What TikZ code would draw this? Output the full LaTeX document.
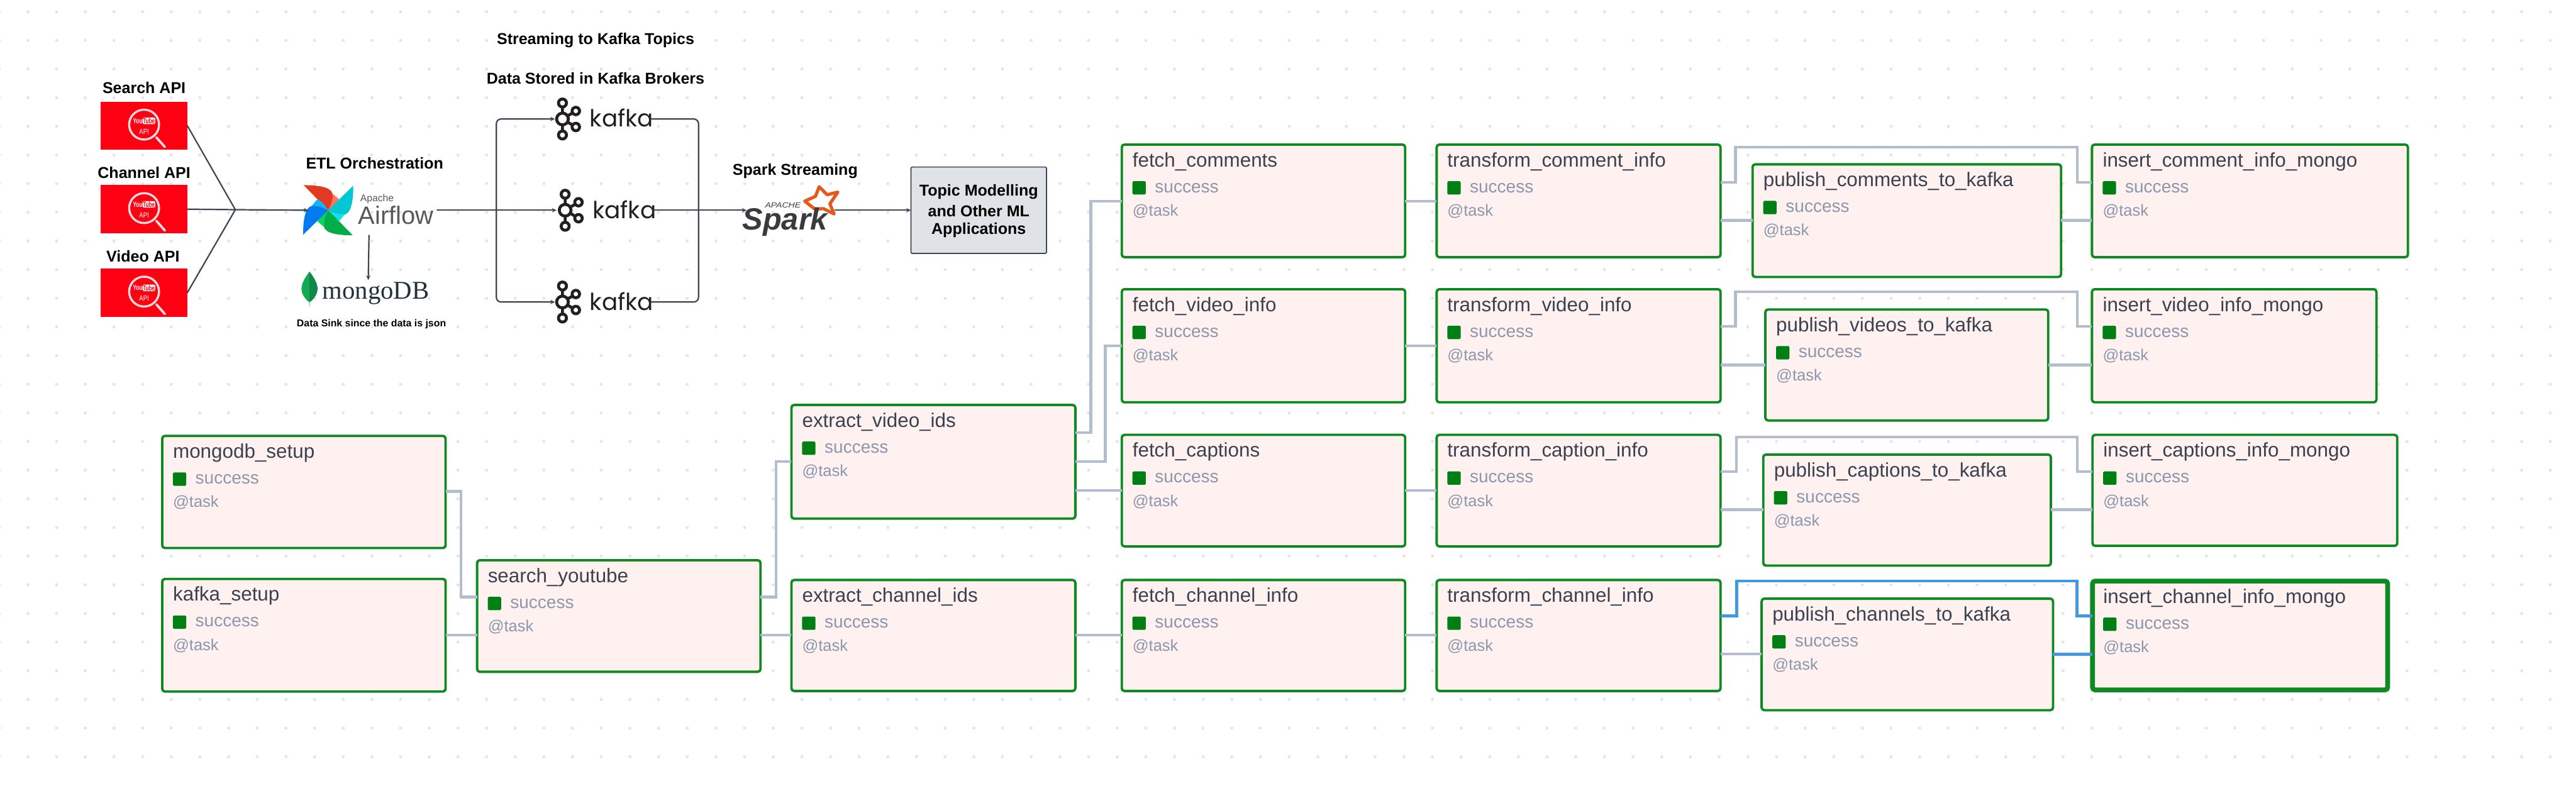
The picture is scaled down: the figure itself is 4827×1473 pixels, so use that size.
\documentclass[tikz,border=0pt]{standalone}
\usepackage{fontspec}
\setmainfont{Liberation Sans}
\newfontfamily\popfont{Poppins}
\newfontfamily\seriffont{Liberation Serif}
\usetikzlibrary{arrows.meta,calc}
\definecolor{dotc}{HTML}{E6E6E6}
\definecolor{taskfill}{HTML}{FFF1EF}
\definecolor{taskgreen}{HTML}{0F8A22}
\definecolor{sqgreen}{HTML}{008014}
\definecolor{edgegrey}{HTML}{B2BECD}
\definecolor{edgeblue}{HTML}{4299E1}
\definecolor{namec}{HTML}{3A4150}
\definecolor{subc}{HTML}{8A97AD}
\definecolor{darkline}{HTML}{3E4654}
\definecolor{ytred}{HTML}{FF0013}
\definecolor{kafkac}{HTML}{231F20}
\definecolor{sparkc}{HTML}{3C3A3E}
\definecolor{sparko}{HTML}{E25A1C}
\definecolor{topicfill}{HTML}{DFE3E8}
\definecolor{mongotext}{HTML}{21313C}
\definecolor{leafa}{HTML}{13AA52}
\definecolor{leafb}{HTML}{10884A}
\tikzset{
  taskbox/.style={draw=taskgreen,fill=taskfill,line width=4.5pt,rounded corners=5pt,inner sep=0,outer sep=0},
  taskname/.style={anchor=west,inner sep=0,text=namec,font=\fontsize{37}{44}\selectfont},
  tasksub/.style={anchor=west,inner sep=0,text=subc,font=\fontsize{33}{40}\selectfont},
  tasktag/.style={anchor=west,inner sep=0,text=subc,font=\fontsize{30}{36}\selectfont},
  tasksq/.style={fill=sqgreen,rounded corners=2pt,inner sep=0,outer sep=0,minimum width=25pt,minimum height=25pt},
  title/.style={inner sep=0,text=black,font=\fontsize{29.5}{35}\selectfont\bfseries},
  logoarea/.style={inner sep=0,outer sep=0},
  apibox/.style={fill=ytred,inner sep=0,outer sep=0,minimum width=162pt,minimum height=90pt},
  greyedge/.style={draw=edgegrey,line width=5pt,line join=miter},
  blueedge/.style={draw=edgeblue,line width=5.5pt,line join=miter},
  flow/.style={draw=darkline,line width=2.6pt,line cap=round},
  flowarrow/.style={flow,-{Stealth[length=9pt,width=8pt]}},
}
\newcommand\tasknode[6][]{%
  \pgfmathsetmacro\tcx{(#3+#5)/2}\pgfmathsetmacro\tcy{(#4+#6)/2}%
  \pgfmathsetmacro\tw{#5-#3}\pgfmathsetmacro\th{#6-#4}%
  \pgfmathsetmacro\tl{#3+20}\pgfmathsetmacro\tsq{#3+32.5}\pgfmathsetmacro\tsu{#3+62}%
  \pgfmathsetmacro\tya{#4+32}\pgfmathsetmacro\tyb{#4+81}\pgfmathsetmacro\tyc{#4+125}%
  \node[taskbox,minimum width=\tw pt,minimum height=\th pt,#1] (#2) at (\tcx,\tcy) {};
  \node[tasksq] (#2sq) at (\tsq,\tyb) {};
  \node[tasksub] (#2st) at (\tsu,\tyb) {success};
  \node[tasktag] (#2tg) at (\tl,\tyc) {@task};
}
\newcommand\tasklabel[2]{\node[taskname] (#1nm) at ($(#1.north west)+(20pt,-32pt)$) {#2};}
\newcommand\straightedge[4][greyedge]{\draw[#1] (#2.east |- 0,#4) -- (#3.west |- 0,#4);}
\newcommand\elbowedge[6][greyedge]{\draw[#1] (#2.east |- 0,#4) -- (#5,#4) -- (#5,#6) -- (#3.west |- 0,#6);}
\newcommand\loopedge[8][greyedge]{\draw[#1] (#2.east |- 0,#4) -- (#5,#4) -- (#5,#6) -- (#7,#6) -- (#7,#8) -- (#3.west |- 0,#8);}
\newcommand\apiicon[3]{%
  \node[apibox] (#1) at (270,#2) {};
  \draw[draw=#3,line width=4pt] (#1.center) ++(0,-2) circle[radius=28pt];
  \draw[draw=#3,line width=4.5pt,line cap=round] ($(#1.center)+(23pt,-22pt)$) -- ($(#1.center)+(39pt,-40pt)$);
  \node[inner sep=0,text=white,font=\fontsize{14}{16}\selectfont\bfseries] (#1you) at ($(#1.center)+(-12pt,9pt)$) {\scalebox{0.68}[1]{You}};
  \node[fill=white,rounded corners=3pt,inner sep=1pt,text=ytred,font=\fontsize{14}{16}\selectfont\bfseries] (#1tube) at ($(#1.center)+(9pt,9pt)$) {\scalebox{0.68}[1]{Tube}};
  \node[inner sep=0,text=white,font=\fontsize{14}{16}\selectfont] (#1api) at ($(#1.center)+(0,-11pt)$) {\scalebox{0.8}[1]{API}};
}
\newcommand\kafkalogo[3]{%
  \begin{scope}[shift={(#2,#3)}]
    \draw[kafkac,line width=5.5pt] (0,-22) -- (0,22) (0,0) -- (25,-15) (0,0) -- (25,15);
    \foreach \px/\py/\pr in {0/-30/7.5,0/30/7.5,25/-15/7,25/15/7,0/0/11}
      \draw[kafkac,line width=5.5pt,fill=white] (\px,\py) circle[radius=\pr pt];
  \end{scope}
  \node[inner sep=0,anchor=base west,text=kafkac,font=\fontsize{44}{50}\popfont] (#1txt) at (#2+51,#3+15) {kafka};
}
\begin{document}
\begin{tikzpicture}[x=1pt,y=-1pt]
\useasboundingbox (0,0) rectangle (4827,1473);
\fill[white] (0,0) rectangle (4827,1473);
% dot grid
\foreach \i in {0,...,89}{
  \foreach \j in {0,...,26}{
    \pgfmathsetmacro\dx{-1.4+53.71*\i}\pgfmathsetmacro\dy{22+53.7*\j}
    \fill[dotc] (\dx,\dy) circle[radius=3pt];
  }
}
% API boxes
\apiicon{apisearch}{235.5}{white!85!ytred}
\apiicon{apichannel}{392}{white!85!ytred}
\apiicon{apivideo}{548.5}{white!85!ytred}
\node[title] (lsearch) at (270,165) {Search API};
\node[title] (lchannel) at (270,324) {Channel API};
\node[title] (lvideo) at (268,480) {Video API};
% Airflow
\node[logoarea,minimum width=241pt,minimum height=94pt] (airflow) at (698.5,394) {};
\foreach \a/\ca/\cb in {0/E43921/FF7557,-90/00C7D4/11E1EE,-180/00AD46/04D659,-270/017CEE/0CB6FF}{
  \begin{scope}[shift={(615,394)},rotate=\a]
    \definecolor{bla}{HTML}{\ca}\definecolor{blb}{HTML}{\cb}
    \fill[bla] (0,0) -- (-46,-47) .. controls (-25,-47) and (5,-45) .. (8,-31) .. controls (10,-22) and (6,-10) .. (0,0) -- cycle;
    \fill[blb] (0,0) .. controls (6,-10) and (10,-22) .. (8,-31) -- (20,-21) .. controls (18,-12) and (8,-5) .. (0,0) -- cycle;
  \end{scope}
}
\node[inner sep=0,anchor=base west,text=black!65,font=\fontsize{18.5}{22}\selectfont] (afapache) at (675,378) {Apache};
\node[inner sep=0,anchor=base west,text=black!65,font=\fontsize{47}{54}\selectfont] (afname) at (671,420) {Airflow};
\node[title] (letl) at (702,306) {ETL Orchestration};
% MongoDB
\node[logoarea,minimum width=250pt,minimum height=50pt] (mongo) at (690,550) {};
\fill[leafa] (580,509) .. controls (570,522) and (565,532) .. (565,541) .. controls (565,553) and (573,561) .. (580,567) -- cycle;
\fill[leafb] (580,509) .. controls (590,522) and (595,532) .. (595,541) .. controls (595,553) and (587,561) .. (580,567) -- cycle;
\draw[black!35,line width=1.5pt] (580,565) -- (580,574);
\node[inner sep=0,anchor=base west,text=mongotext,font=\fontsize{48}{54}\seriffont] (mongotxt) at (604,560) {mongoDB};
\node[inner sep=0,text=black,font=\fontsize{18.7}{22}\selectfont\bfseries] (lsink) at (696,607) {Data Sink since the data is json};
% Kafka
\node[title] (lstream) at (1116,76) {Streaming to Kafka Topics};
\node[title] (lstore) at (1116,147) {Data Stored in Kafka Brokers};
\node[logoarea,minimum width=180pt,minimum height=80pt] (ktop) at (1130,223) {};
\node[logoarea,minimum width=182pt,minimum height=80pt] (kmid) at (1134,394) {};
\node[logoarea,minimum width=180pt,minimum height=80pt] (kbot) at (1130,566) {};
\kafkalogo{ktopl}{1054}{223}
\kafkalogo{kmidl}{1059}{394}
\kafkalogo{kbotl}{1054}{566}
% Spark
\node[logoarea,minimum width=166pt,minimum height=94pt] (spark) at (1482,394) {};
\node[title] (lspark) at (1490,321) {Spark Streaming};
\draw[sparko,line width=6pt,line join=round,fill=white] (1535,350) -- (1550,365) -- (1570,360) -- (1555,382) -- (1563,401) -- (1543,391) -- (1527,392) -- (1508,377) -- (1528,368) -- cycle;
\node[inner sep=0,anchor=base west,text=sparkc,font=\fontsize{57.5}{62}\selectfont\bfseries\itshape] (sparktxt) at (1391,431) {Spark};
\node[inner sep=0,text=sparkc,font=\fontsize{14}{16}\selectfont\itshape] (sparkap) at (1467,385) {\scalebox{1.18}[1]{APACHE}};
% Topic box
\node[draw=darkline,fill=topicfill,line width=2pt,rounded corners=2pt,inner sep=0,outer sep=0,minimum width=254pt,minimum height=162pt] (topic) at (1834,394) {};
\node[title] (ltopic1) at (1834,360) {Topic Modelling};
\node[title] (ltopic2) at (1834,395) {and Other ML};
\node[title] (ltopic3) at (1834,431) {Applications};
% Flow connectors
\coordinate (apijoin) at (441,393);
\coordinate (afin) at (578,394);
\coordinate (splitl) at (930,394);
\coordinate (splitr) at (1309,394);
\draw[flow] (apisearch.east) -- (apijoin);
\draw[flow] (apichannel.east) -- (apijoin);
\draw[flow] (apivideo.east) -- (apijoin);
\draw[flowarrow] (apijoin) -- (afin);
\draw[flowarrow] ([xshift=-7pt]airflow.south) -- (mongo.north);
\draw[flowarrow] (airflow.east) -- (kmid.west);
\draw[flowarrow,rounded corners=9pt] (splitl) |- (ktop.west);
\draw[flowarrow,rounded corners=9pt] (splitl) |- (kbot.west);
\draw[flow,rounded corners=9pt] (ktop.east) -| (splitr);
\draw[flow,rounded corners=9pt] (kbot.east) -| (splitr);
\draw[flowarrow] (kmid.east) -- (spark.west);
\draw[flowarrow] (spark.east) -- (topic.west);
% Task nodes
\tasknode{mset}{304}{817}{835}{1027}
\tasknode{kset}{304}{1085}{835}{1296}
\tasknode{syt}{894}{1050}{1425}{1259}
\tasknode{evid}{1483}{759}{2015}{972}
\tasknode{ecid}{1483}{1087}{2015}{1295}
\tasknode{fcom}{2102}{271}{2633}{482}
\tasknode{fvid}{2102}{542}{2633}{754}
\tasknode{fcap}{2102}{815}{2633}{1024}
\tasknode{fchn}{2102}{1087}{2633}{1295}
\tasknode{tcom}{2692}{271}{3224}{482}
\tasknode{tvid}{2692}{542}{3224}{754}
\tasknode{tcap}{2692}{815}{3224}{1024}
\tasknode{tchn}{2692}{1087}{3224}{1295}
\tasknode{pcom}{3284}{308}{3862}{519}
\tasknode{pvid}{3308}{580}{3838}{788}
\tasknode{pcap}{3304}{852}{3843}{1060}
\tasknode{pchn}{3301}{1122}{3847}{1331}
\tasknode{icom}{3920}{271}{4512}{482}
\tasknode{ivid}{3920}{542}{4453}{754}
\tasknode{icap}{3921}{815}{4492}{1023}
\tasknode[line width=9pt]{ichn}{3921}{1089}{4474}{1293}
\tasklabel{mset}{mongodb\_setup}
\tasklabel{kset}{kafka\_setup}
\tasklabel{syt}{search\_youtube}
\tasklabel{evid}{extract\_video\_ids}
\tasklabel{ecid}{extract\_channel\_ids}
\tasklabel{fcom}{fetch\_comments}
\tasklabel{fvid}{fetch\_video\_info}
\tasklabel{fcap}{fetch\_captions}
\tasklabel{fchn}{fetch\_channel\_info}
\tasklabel{tcom}{transform\_comment\_info}
\tasklabel{tvid}{transform\_video\_info}
\tasklabel{tcap}{transform\_caption\_info}
\tasklabel{tchn}{transform\_channel\_info}
\tasklabel{pcom}{publish\_comments\_to\_kafka}
\tasklabel{pvid}{publish\_videos\_to\_kafka}
\tasklabel{pcap}{publish\_captions\_to\_kafka}
\tasklabel{pchn}{publish\_channels\_to\_kafka}
\tasklabel{icom}{insert\_comment\_info\_mongo}
\tasklabel{ivid}{insert\_video\_info\_mongo}
\tasklabel{icap}{insert\_captions\_info\_mongo}
\tasklabel{ichn}{insert\_channel\_info\_mongo}
% Task connectors
\elbowedge{mset}{syt}{921}{864}{1119}
\straightedge{kset}{syt}{1190}
\elbowedge{syt}{evid}{1119}{1454}{865}
\straightedge{syt}{ecid}{1190}
\elbowedge{evid}{fcom}{811}{2044}{377}
\elbowedge{evid}{fvid}{865}{2071}{648}
\straightedge{evid}{fcap}{919}
\straightedge{ecid}{fchn}{1190}
\straightedge{fcom}{tcom}{377}
\straightedge{fvid}{tvid}{648}
\straightedge{fcap}{tcap}{919}
\straightedge{fchn}{tchn}{1190}
\loopedge{tcom}{icom}{342}{3252}{276}{3892}{342}
\loopedge{tvid}{ivid}{612}{3252}{547}{3892}{612}
\loopedge{tcap}{icap}{884}{3254}{819}{3892}{884}
\loopedge[blueedge]{tchn}{ichn}{1154}{3254}{1089}{3892}{1154}
\straightedge{tcom}{pcom}{413}
\straightedge{tvid}{pvid}{684}
\straightedge{tcap}{pcap}{955}
\straightedge{tchn}{pchn}{1226}
\straightedge{pcom}{icom}{413}
\straightedge{pvid}{ivid}{684}
\straightedge{pcap}{icap}{955}
\straightedge[blueedge]{pchn}{ichn}{1226}
\end{tikzpicture}
\end{document}
